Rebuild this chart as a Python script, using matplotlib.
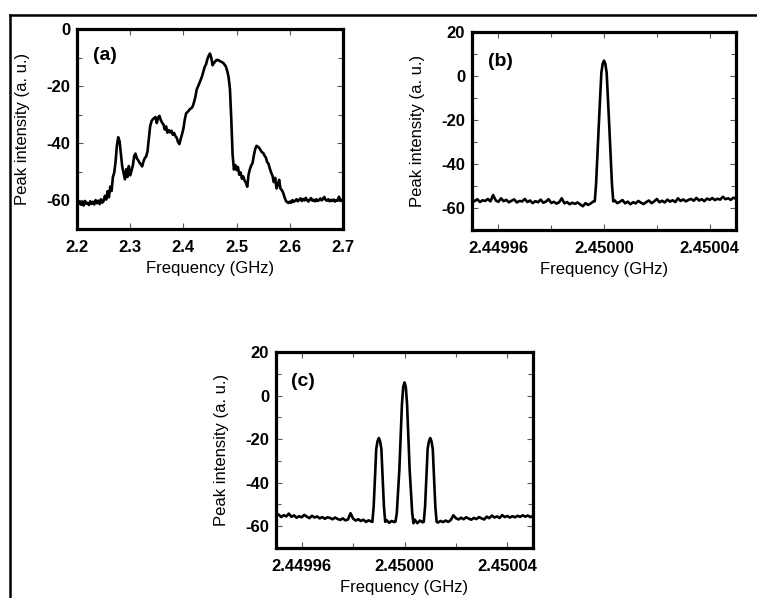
import numpy as np
import matplotlib
matplotlib.use("Agg")
import matplotlib.pyplot as plt
from matplotlib.lines import Line2D
from matplotlib.ticker import MultipleLocator, FixedLocator, FormatStrFormatter

plt.rcParams["font.family"] = ["Liberation Sans", "DejaVu Sans"]
plt.rcParams["axes.unicode_minus"] = False

# (a) broadband spectrum, sampled every 2.5 MHz from 2.2 to 2.7 GHz
a_start_ghz = 2.2
a_step_ghz = 0.0025
a_level = [
    -60.8, -61.3, -60.4, -61.5, -60.6, -61.8, -60.2, -61.1, -60.9, -61.6,
    -60.3, -61.2, -60.5, -61.4, -59.9, -61.0, -60.1, -61.3, -59.6, -60.8,
    -60.2, -58.4, -59.7, -56.8, -58.9, -55.2, -56.7, -51.8, -50.3, -46.5,
    -40.8, -37.9, -39.2, -43.6, -48.1, -50.4, -52.6, -49.1, -51.8, -48.0,
    -51.2, -49.6, -47.8, -44.5, -43.6, -45.3, -45.9, -46.8, -47.4, -48.1,
    -46.3, -45.2, -44.6, -42.9, -38.5, -34.1, -32.3, -31.6, -31.2, -30.8,
    -32.9, -31.0, -30.4, -31.9, -32.8, -33.4, -35.2, -34.1, -36.3, -35.4,
    -36.2, -35.6, -37.0, -36.4, -37.5, -38.1, -39.6, -40.3, -38.4, -36.8,
    -34.9, -31.8, -29.6, -29.1, -28.6, -28.0, -27.7, -27.1, -25.6, -23.8,
    -21.2, -20.1, -19.0, -17.8, -16.6, -14.9, -13.3, -12.4, -10.6, -9.4,
    -8.6, -10.2, -12.7, -11.9, -11.3, -10.8, -10.9, -11.1, -11.4, -11.6,
    -11.9, -12.5, -13.2, -14.8, -16.9, -21.0, -31.5, -44.0, -49.2, -47.6,
    -49.4, -48.3, -51.0, -50.2, -52.4, -51.6, -53.1, -53.8, -55.2, -51.0,
    -49.1, -47.8, -46.9, -44.2, -42.0, -40.9, -41.2, -41.6, -42.4, -43.1,
    -43.4, -44.3, -45.0, -46.6, -47.2, -48.9, -50.3, -51.4, -53.6, -52.1,
    -55.8, -54.6, -52.8, -55.9, -56.4, -57.3, -58.8, -60.1, -60.6, -60.9,
    -60.4, -60.8, -59.9, -60.5, -60.1, -59.6, -60.3, -59.8, -59.3, -60.2,
    -59.5, -60.0, -59.1, -59.9, -60.4, -59.7, -59.2, -60.1, -59.8, -60.3,
    -59.6, -60.2, -59.9, -59.3, -60.0, -59.4, -58.8, -59.9, -60.1, -59.6,
    -60.3, -59.8, -60.2, -59.7, -60.4, -59.9, -60.1, -58.7, -60.2, -59.8,
    -60.0,
]

# (b) single carrier, offsets in kHz from 2.45 GHz
CENTER_GHZ = 2.45
b_left_offset = list(range(-50, -3))
b_left_level = [
    -56.2, -56.9, -56.0, -57.3, -56.5, -56.8, -55.9, -57.0, -54.1, -56.6,
    -57.2, -55.6, -56.9, -56.3, -57.4, -56.7, -56.1, -57.5, -56.8, -57.0,
    -55.9, -57.3, -56.6, -57.8, -56.9, -57.4, -56.2, -57.6, -57.1, -56.0,
    -57.7, -57.2, -58.0, -57.4, -55.6, -57.9, -57.3, -58.3, -57.6, -58.1,
    -57.5, -58.4, -59.2, -57.8, -58.6, -57.9, -57.0,
]
b_peak_offset = [-3.5, -3.0, -2.5, -2.0, -1.5, -1.0, -0.5, 0.0,
                 0.5, 1.0, 1.5, 2.0, 2.5, 3.0, 3.5]
b_peak_level = [-57.0, -49.0, -36.0, -23.0, -10.5, 1.5, 5.5, 7.0,
                5.5, 1.5, -10.5, -23.0, -36.0, -49.0, -57.0]
b_right_offset = list(range(4, 51))
b_right_level = [
    -56.5, -57.8, -57.2, -56.4, -57.9, -57.1, -58.3, -57.4, -57.9, -56.8,
    -57.6, -58.2, -57.3, -56.6, -57.8, -57.0, -55.9, -57.4, -56.7, -57.5,
    -56.2, -57.1, -56.5, -57.3, -55.6, -56.8, -56.1, -57.0, -56.3, -55.9,
    -56.7, -55.4, -56.6, -56.0, -56.9, -55.7, -56.3, -55.5, -56.4, -55.8,
    -56.2, -54.9, -56.0, -55.6, -56.3, -55.3, -55.8,
]

# (c) carrier with two sidebands at +/-10 kHz
c_left_offset = list(range(-50, -12))
c_left_level = [
    -55.2, -54.6, -55.8, -54.9, -55.5, -54.2, -55.7, -55.0, -56.1, -55.4,
    -55.9, -54.8, -55.6, -56.3, -55.2, -56.0, -55.5, -56.4, -55.8, -56.6,
    -55.9, -56.2, -56.8, -56.0, -56.7, -57.1, -56.4, -57.3, -56.9, -54.0,
    -56.5, -57.4, -56.8, -57.6, -57.0, -58.0, -57.3, -57.8,
]
c_side1_offset = [-12.5, -12.0, -11.5, -11.0, -10.5, -10.0,
                  -9.5, -9.0, -8.5, -8.0, -7.5]
c_side1_level = [-58.0, -51.0, -38.0, -24.5, -21.0, -19.5,
                 -21.0, -24.5, -38.0, -51.0, -58.0]
c_gap1_offset = [-7, -6, -5, -4]
c_gap1_level = [-57.2, -58.4, -57.6, -58.1]
c_main_offset = [-3.5, -3.0, -2.5, -2.0, -1.5, -1.0, -0.5, 0.0,
                 0.5, 1.0, 1.5, 2.0, 2.5, 3.0, 3.5]
c_main_level = [-57.8, -54.0, -44.0, -34.0, -19.0, -4.0, 4.0, 6.0,
                4.0, -4.0, -19.0, -34.0, -44.0, -54.0, -58.6]
c_gap2_offset = [4, 5, 6, 7]
c_gap2_level = [-57.0, -58.6, -57.4, -58.2]
c_side2_offset = [7.5, 8.0, 8.5, 9.0, 9.5, 10.0,
                  10.5, 11.0, 11.5, 12.0, 12.5]
c_side2_level = [-58.0, -51.0, -38.0, -24.5, -21.0, -19.5,
                 -21.0, -24.5, -38.0, -51.0, -58.0]
c_right_offset = list(range(13, 51))
c_right_level = [
    -58.3, -57.6, -58.1, -57.4, -58.0, -57.2, -55.0, -56.3, -56.9, -56.1,
    -56.8, -55.9, -56.5, -57.0, -56.2, -56.7, -55.8, -56.4, -56.9, -55.6,
    -56.3, -55.1, -56.0, -55.5, -56.2, -54.9, -55.8, -55.3, -56.0, -55.4,
    -55.9, -55.2, -55.7, -55.0, -55.6, -55.1, -55.8, -55.3,
]

narrow_ticks = [2.44996, 2.45000, 2.45004]

FS = 12
TRACE_LW = 1.9


def style_axes(ax):
    for sp in ax.spines.values():
        sp.set_linewidth(2.3)
    ax.tick_params(which="both", direction="in", top=True, right=True,
                   color="0.35", width=0.8)
    ax.tick_params(which="major", length=4.5, labelsize=FS)
    ax.tick_params(axis="x", which="major", pad=8)
    ax.tick_params(axis="y", which="major", pad=5)
    ax.tick_params(which="minor", length=3.5)
    for lab in ax.get_xticklabels() + ax.get_yticklabels():
        lab.set_fontweight("bold")
    ax.set_xlabel("Frequency (GHz)", fontsize=FS, labelpad=4.5)
    ax.set_ylabel("Peak intensity (a. u.)", fontsize=FS, labelpad=12)


def narrow_panel(ax, offsets, levels, tag):
    freq = CENTER_GHZ + np.array(offsets) * 1e-6
    ax.plot(freq, levels, color="black", lw=TRACE_LW)
    ax.set_xlim(2.44995, 2.45005)
    ax.set_ylim(-70, 20)
    ax.xaxis.set_major_locator(FixedLocator(narrow_ticks))
    ax.xaxis.set_minor_locator(FixedLocator([2.44998, 2.45002]))
    ax.xaxis.set_major_formatter(FormatStrFormatter("%.5f"))
    ax.yaxis.set_major_locator(MultipleLocator(20))
    ax.yaxis.set_minor_locator(MultipleLocator(10))
    style_axes(ax)
    ax.text(0.06, 0.85, tag, transform=ax.transAxes, fontsize=14,
            fontweight="bold", va="center")


def main():
    fig = plt.figure(figsize=(7.57, 5.98), dpi=100)

    # panel (a)
    ax_a = fig.add_axes([0.1017, 0.6171, 0.3514, 0.3344])
    a_freq = a_start_ghz + a_step_ghz * np.arange(len(a_level))
    ax_a.plot(a_freq, a_level, color="black", lw=TRACE_LW)
    ax_a.set_xlim(2.2, 2.7)
    ax_a.set_ylim(-70, 0)
    ax_a.xaxis.set_major_locator(MultipleLocator(0.1))
    ax_a.xaxis.set_major_formatter(FormatStrFormatter("%.1f"))
    ax_a.yaxis.set_major_locator(MultipleLocator(20))
    ax_a.yaxis.set_minor_locator(MultipleLocator(10))
    style_axes(ax_a)
    ax_a.text(0.06, 0.865, "(a)", transform=ax_a.transAxes, fontsize=14,
              fontweight="bold", va="center")

    # panel (b)
    ax_b = fig.add_axes([0.6235, 0.6154, 0.3488, 0.3311])
    narrow_panel(ax_b,
                 b_left_offset + b_peak_offset + b_right_offset,
                 b_left_level + b_peak_level + b_right_level, "(b)")

    # panel (c)
    ax_c = fig.add_axes([0.3646, 0.0836, 0.3395, 0.3278])
    narrow_panel(ax_c,
                 c_left_offset + c_side1_offset + c_gap1_offset + c_main_offset
                 + c_gap2_offset + c_side2_offset + c_right_offset,
                 c_left_level + c_side1_level + c_gap1_level + c_main_level
                 + c_gap2_level + c_side2_level + c_right_level, "(c)")

    # outer frame: top and left edges
    y_top = 1 - 15 / 598
    x_left = 10 / 757
    fig.add_artist(Line2D([x_left, 1.0], [y_top, y_top], color="black", lw=1.8,
                          transform=fig.transFigure))
    fig.add_artist(Line2D([x_left, x_left], [0.0, y_top], color="black", lw=1.8,
                          transform=fig.transFigure))

    fig.savefig("out.png", dpi=100)


if __name__ == "__main__":
    main()
